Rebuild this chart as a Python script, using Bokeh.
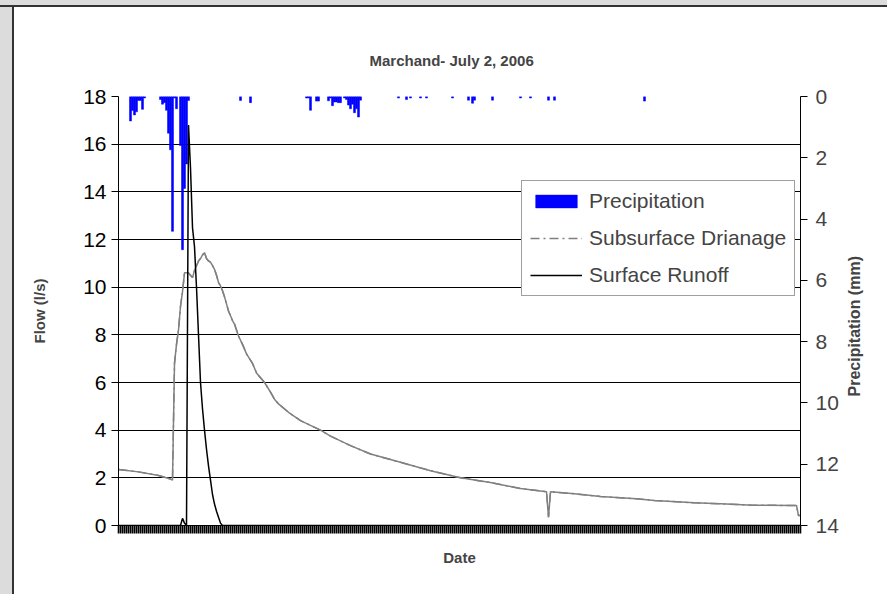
import math
from bokeh.plotting import figure
from bokeh.layouts import row, column
from bokeh.models import Range1d, LinearAxis, FixedTicker, Legend, LegendItem, Label, Spacer
from bokeh.embed import file_html
from bokeh.resources import INLINE

# ---- data (x = recording step index) ----
n_steps = 341
flow_ticks = [0, 2, 4, 6, 8, 10, 12, 14, 16, 18]
precip_ticks = [0, 2, 4, 6, 8, 10, 12, 14]

precip_step = [6, 7, 8, 9, 10, 11, 12, 13,
               21, 22, 23, 24, 25, 26, 27, 28, 29, 31, 32, 33, 34, 35,
               61, 66,
               94, 95, 96, 99, 100, 105, 106, 107, 108, 109, 110, 111, 113, 114, 115, 116, 117, 118, 119, 120, 121,
               140, 144, 146, 151, 154, 167, 175, 177, 178, 187, 201, 206, 215, 218, 263]
precip_mm = [0.8, 0.46, 0.6, 0.5, 0.13, 0.13, 0.42, 0.05,
             0.1, 0.25, 0.2, 0.45, 1.2, 1.74, 4.4, 0.05, 0.4, 1.6, 5.0, 3.0, 2.2, 0.13,
             0.13, 0.2,
             0.05, 0.05, 0.45, 0.15, 0.15, 0.14, 0.05, 0.3, 0.18, 0.18, 0.2, 0.2, 0.05, 0.1, 0.28, 0.4, 0.25, 0.53, 0.4, 0.67, 0.12,
             0.05, 0.1, 0.05, 0.05, 0.05, 0.05, 0.12, 0.22, 0.12, 0.12, 0.05, 0.05, 0.12, 0.12, 0.15]

runoff_step = [0, 31, 32, 33, 34, 35, 36, 37, 38, 39, 40, 41, 42, 43, 44, 45, 46, 47, 48, 49, 50, 51, 52, 341]
runoff_ls = [0.0, 0.0, 0.3, 0.1, 0.0, 16.8, 15.0, 12.5, 11.7, 10.0, 8.0, 6.0, 4.9, 4.0, 3.2, 2.5, 1.9, 1.3, 0.9, 0.6, 0.35, 0.1, 0.0, 0.0]

drain_step = [0, 10, 20, 26, 27, 28, 29, 30, 31, 32, 33, 34, 35, 36, 37, 38, 39, 40, 41, 42, 43, 44, 45, 46, 47,
              48, 49, 50, 51, 52, 53, 54, 55, 56, 57, 58, 60, 62, 64, 67, 69, 73, 76, 78, 80, 85, 91, 96, 101,
              106, 116, 126, 141, 156, 171, 186, 201, 214, 215, 216, 228, 241, 259, 268, 288, 304, 317, 339, 340, 341]
drain_ls = [2.35, 2.25, 2.1, 1.95, 1.9, 6.8, 7.6, 8.2, 9.2, 9.8, 10.6, 10.6, 10.6, 10.5, 10.4, 10.7, 10.9, 11.1, 11.2, 11.35, 11.45, 11.2, 11.1, 11.05, 10.9,
            10.75, 10.5, 10.2, 10.05, 9.85, 9.6, 9.3, 9.0, 8.8, 8.6, 8.45, 7.95, 7.6, 7.2, 6.8, 6.4, 6.0, 5.6, 5.3, 5.1, 4.75, 4.4, 4.2, 4.0,
            3.75, 3.35, 3.0, 2.65, 2.3, 2.0, 1.8, 1.55, 1.42, 0.35, 1.42, 1.33, 1.22, 1.12, 1.05, 0.95, 0.9, 0.85, 0.84, 0.42, 0.42]

FONT = "Liberation Sans"

p = figure(width=831, height=587, output_backend="svg", toolbar_location=None,
           x_range=Range1d(0, n_steps), y_range=Range1d(0, 18),
           min_border_left=104, min_border_right=45, min_border_top=89, min_border_bottom=69,
           background_fill_color="white", border_fill_color="white")
p.outline_line_color = None
p.extra_y_ranges = {"precip": Range1d(14, 0)}

# title
p.title.text = "Marchand- July 2, 2006"
p.title.text_font = FONT
p.title.text_font_size = "15px"
p.title.text_font_style = "bold"
p.title.align = "left"
p.title.offset = 251
p.title.standoff = 55

# left axis
ya = p.yaxis[0]
ya.ticker = FixedTicker(ticks=flow_ticks)
ya.axis_label = "Flow (l/s)"
ya.axis_label_text_font = FONT
ya.axis_label_text_font_size = "15px"
ya.axis_label_text_font_style = "bold"
ya.axis_label_standoff = 32
ya.major_label_text_font = FONT
ya.major_label_text_font_size = "21px"
ya.major_label_standoff = 5
ya.major_tick_out = 7
ya.major_tick_in = 0
ya.minor_tick_line_color = None
ya.axis_line_color = "black"
ya.major_tick_line_color = "black"
ya.major_label_text_color = "black"

# bottom axis: a tick at every recording step, no labels
xa = p.xaxis[0]
xa.ticker = FixedTicker(ticks=[], minor_ticks=list(range(0, n_steps + 1)))
xa.minor_tick_out = 8
xa.minor_tick_in = 0
xa.minor_tick_line_color = "black"
xa.minor_tick_line_width = 1.6
xa.major_tick_line_color = None
xa.axis_line_color = "black"
xa.axis_label = "Date"
xa.axis_label_text_font = FONT
xa.axis_label_text_font_size = "15px"
xa.axis_label_text_font_style = "bold"
xa.axis_label_standoff = 15

# right axis (its title is drawn in the narrow panel beside the plot)
ra = LinearAxis(y_range_name="precip", ticker=FixedTicker(ticks=precip_ticks))
ra.major_label_text_font = FONT
ra.major_label_text_font_size = "21px"
ra.major_label_standoff = 8
ra.major_tick_out = 7
ra.major_tick_in = 0
ra.minor_tick_line_color = None
ra.axis_line_color = "black"
p.add_layout(ra, "right")

# grid
p.xgrid.visible = False
p.ygrid.ticker = FixedTicker(ticks=flow_ticks)
p.ygrid.grid_line_color = "black"
p.ygrid.grid_line_width = 1

# glyphs
bars = p.vbar(x=precip_step, top=0, bottom=precip_mm, width=1.0, y_range_name="precip",
              fill_color="#0000FF", line_color="#0000FF", line_width=0.5)
drain_key = p.line(x=drain_step, y=drain_ls, line_color="#808080", line_width=1.5, line_dash="9 4 2 4")
drain = p.line(x=drain_step, y=drain_ls, line_color="#808080", line_width=1.5)
runoff = p.line(x=runoff_step, y=runoff_ls, line_color="black", line_width=1.5)

legend = Legend(items=[
    LegendItem(label="Precipitation", renderers=[bars]),
    LegendItem(label="Subsurface Drianage", renderers=[drain_key]),
    LegendItem(label="Surface Runoff", renderers=[runoff]),
], location=(403, 229))
legend.label_text_font = FONT
legend.label_text_font_size = "21px"
legend.glyph_width = 52
legend.glyph_height = 16
legend.label_height = 24
legend.spacing = 13
legend.padding = 8
legend.margin = 0
legend.label_standoff = 7
legend.border_line_color = "#404040"
legend.border_line_width = 1
legend.background_fill_alpha = 1
p.add_layout(legend)

# narrow side panel carrying the right-axis title, reading bottom-to-top
p2 = figure(width=42, height=587, output_backend="svg", toolbar_location=None,
            x_range=Range1d(0, 1), y_range=Range1d(0, 1), min_border=0,
            x_axis_location=None, y_axis_location=None,
            background_fill_color="white", border_fill_color="white")
p2.outline_line_color = None
p2.grid.visible = False
p2.add_layout(Label(x=9, y=129, x_units="screen", y_units="screen",
                    text="Precipitation (mm)", text_font=FONT, text_font_size="16px",
                    text_font_style="bold", text_align="left", text_baseline="middle",
                    angle=math.pi / 2))

# grey window frame of the original chart (top and left edges)
GREY = {"background-color": "#dcdcdc"}
DARK = {"background-color": "#333333"}
top_grey = Spacer(width=887, height=5, styles=GREY)
top_dark = Spacer(width=887, height=2, styles=DARK)
left_grey = Spacer(width=12, height=587, styles=GREY)
left_dark = Spacer(width=2, height=587, styles=DARK)

layout = column(top_grey, top_dark, row(left_grey, left_dark, p, p2))
open("out.html", "w").write(file_html(layout, INLINE))
